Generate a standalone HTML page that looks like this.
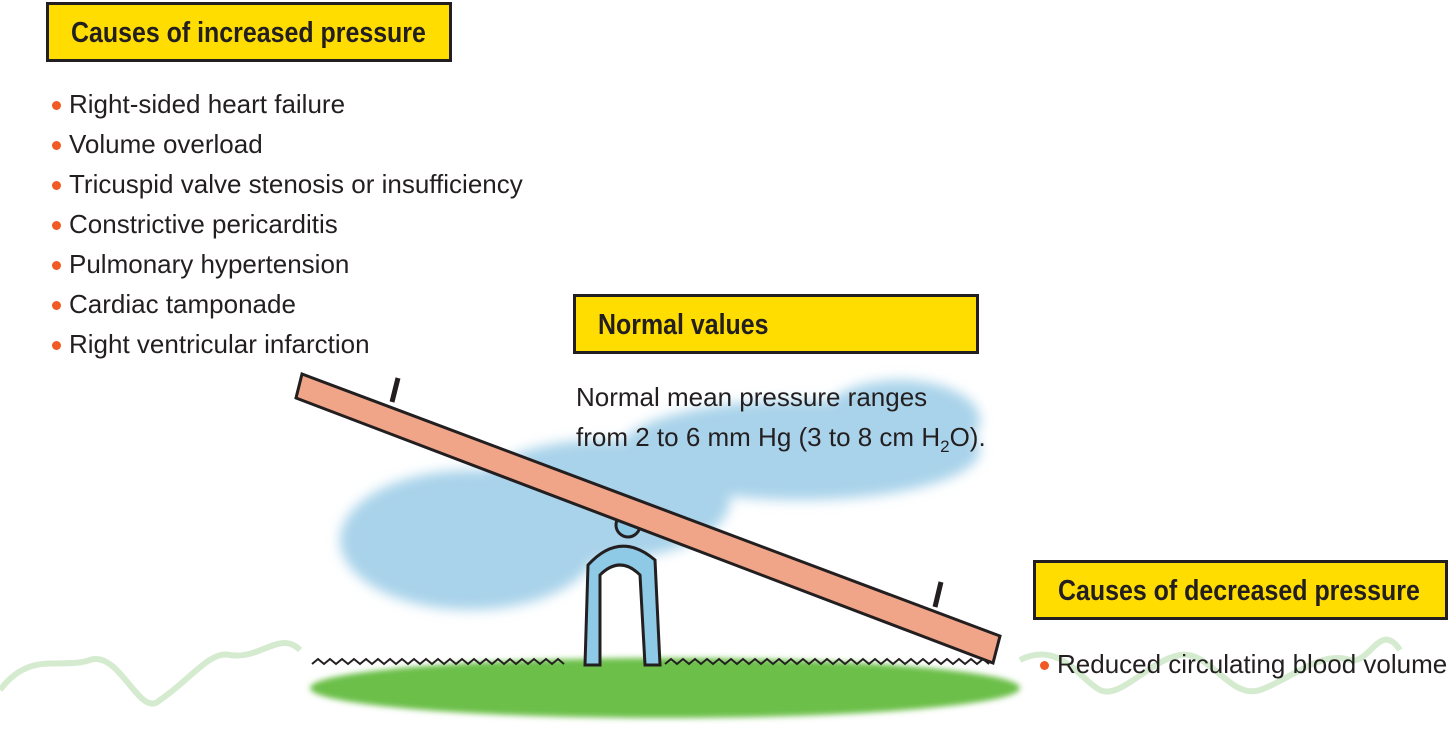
<!DOCTYPE html>
<html><head><meta charset="utf-8"><style>
body{margin:0;width:1451px;height:742px;background:#fff;position:relative;overflow:hidden;font-family:"Liberation Sans",sans-serif;color:#231f20}
.box{position:absolute;background:#ffdd00;border:3px solid #231f20;box-sizing:border-box;font-weight:bold;font-size:29px;padding-left:22px;line-height:56px;white-space:nowrap}
.box span{display:inline-block;transform:scaleX(0.86);transform-origin:left center}
.li{position:absolute;font-size:26px;white-space:nowrap}
.li:before{content:"";position:absolute;left:-17px;top:12px;width:9px;height:9px;border-radius:50%;background:#f15a24}
.t{position:absolute;font-size:26px;white-space:nowrap;line-height:40px}
svg{position:absolute;left:0;top:0}
</style></head><body>
<svg width="1451" height="742">
<defs><filter id="b"><feGaussianBlur stdDeviation="6"/></filter><filter id="b2"><feGaussianBlur stdDeviation="3"/></filter></defs>
<g fill="#a9d3ea" filter="url(#b)">
<ellipse cx="470" cy="540" rx="130" ry="70"/>
<ellipse cx="600" cy="500" rx="130" ry="60"/>
<ellipse cx="800" cy="450" rx="180" ry="50"/>
<ellipse cx="900" cy="420" rx="80" ry="40"/>
</g>
<path d="M0,690 C30,650 60,670 90,660 C120,650 140,720 160,700 C190,680 210,650 230,655 C260,660 280,630 300,650 M1020,660 C1060,640 1080,680 1100,690 C1120,700 1150,660 1180,655 C1210,650 1230,700 1260,690 C1290,680 1320,650 1350,660 C1370,665 1380,620 1400,650" fill="none" stroke="#d5ebcf" stroke-width="6"/>
<ellipse cx="665" cy="688" rx="355" ry="30" fill="#6cbf4a" filter="url(#b2)"/>
<path d="M312,664 l6,-5 l6,5 l6,-5 l6,5 l6,-5 l6,5 l6,-5 l6,5 l6,-5 l6,5 l6,-5 l6,5 l6,-5 l6,5 l6,-5 l6,5 l6,-5 l6,5 l6,-5 l6,5 l6,-5 l6,5 l6,-5 l6,5 l6,-5 l6,5 l6,-5 l6,5 l6,-5 l6,5 l6,-5 l6,5 l6,-5 l6,5 l6,-5 l6,5 l6,-5 l6,5 l6,-5 l6,5 l6,-5 l6,5" stroke="#231f20" stroke-width="2" fill="none"/>
<path d="M665,664 l6,-5 l6,5 l6,-5 l6,5 l6,-5 l6,5 l6,-5 l6,5 l6,-5 l6,5 l6,-5 l6,5 l6,-5 l6,5 l6,-5 l6,5 l6,-5 l6,5 l6,-5 l6,5 l6,-5 l6,5 l6,-5 l6,5 l6,-5 l6,5 l6,-5 l6,5 l6,-5 l6,5 l6,-5 l6,5 l6,-5 l6,5 l6,-5 l6,5 l6,-5 l6,5 l6,-5 l6,5 l6,-5 l6,5 l6,-5 l6,5 l6,-5 l6,5 l6,-5 l6,5 l6,-5 l6,5 l6,-5 l6,5 l6,-5 l6,5" stroke="#231f20" stroke-width="2" fill="none"/>
<g stroke="#231f20" stroke-width="3" fill="#8ec9e6">
<path d="M585,665 L588,565 Q620,530 655,560 L660,665 L645,665 L640,575 Q620,555 600,575 L600,665 Z"/>
<circle cx="628" cy="525" r="12"/>
</g>
<path d="M392,402 L398,378 M935,607 L941,582" stroke="#231f20" stroke-width="5"/>
<path d="M302,374 L1000,636 L993,663 L296,398 Z" fill="#f0a488" stroke="#231f20" stroke-width="3"/>
</svg>
<div class="box" style="left:46px;top:2px;width:406px;height:60px"><span>Causes of increased pressure</span></div>
<div class="li" style="left:69px;top:89px">Right-sided heart failure</div>
<div class="li" style="left:69px;top:129px">Volume overload</div>
<div class="li" style="left:69px;top:169px">Tricuspid valve stenosis or insufficiency</div>
<div class="li" style="left:69px;top:209px">Constrictive pericarditis</div>
<div class="li" style="left:69px;top:249px">Pulmonary hypertension</div>
<div class="li" style="left:69px;top:289px">Cardiac tamponade</div>
<div class="li" style="left:69px;top:329px">Right ventricular infarction</div>
<div class="box" style="left:573px;top:294px;width:406px;height:60px"><span>Normal values</span></div>
<div class="t" style="left:576px;top:377px">Normal mean pressure ranges<br>from 2 to 6 mm Hg (3 to 8 cm H<sub style="font-size:17px">2</sub>O).</div>
<div class="box" style="left:1033px;top:560px;width:415px;height:60px"><span>Causes of decreased pressure</span></div>
<div class="li" style="left:1057px;top:649px">Reduced circulating blood volume</div>
</body></html>
